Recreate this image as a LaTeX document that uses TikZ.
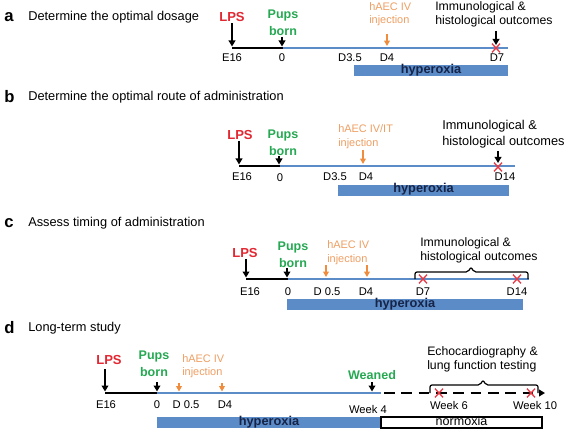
\documentclass[tikz,border=0pt]{standalone}
\usepackage{fontspec}
\setmainfont{Liberation Sans}
\usetikzlibrary{arrows.meta,shapes.misc}
\definecolor{lpsred}{RGB}{226,40,50}
\definecolor{pupsgreen}{RGB}{38,168,82}
\definecolor{injtext}{RGB}{238,158,98}
\definecolor{injarrow}{RGB}{240,140,62}
\definecolor{tlblue}{RGB}{92,140,200}
\definecolor{hypnavy}{RGB}{22,36,72}
\definecolor{xred}{RGB}{230,58,70}
\begin{document}
\begin{tikzpicture}[x=0.75pt,y=-0.75pt,
  every node/.style={inner sep=0pt},
  panel/.style={font=\fontsize{12.5}{14}\selectfont\bfseries,anchor=west},
  ttl/.style={font=\fontsize{9.6}{11}\selectfont,anchor=west},
  tick/.style={font=\fontsize{8.4}{10}\selectfont},
  lps/.style={text=lpsred,font=\fontsize{9.8}{11}\selectfont\bfseries},
  pups/.style={text=pupsgreen,font=\fontsize{9.4}{12.75}\selectfont\bfseries,align=center},
  inj/.style={text=injtext,font=\fontsize{8.2}{10.3}\selectfont,align=left,anchor=west},
  outc/.style={font=\fontsize{9.2}{10.4}\selectfont,align=left,anchor=west},
  blackline/.style={line width=1.6pt,black},
  blueline/.style={line width=1.4pt,tlblue},
  arr/.style={line width=1.1pt,black,-{Triangle[width=5pt,length=4.5pt]}},
  oarr/.style={line width=0.9pt,injarrow,-{Triangle[width=4.2pt,length=4pt]}},
  bar/.style={fill=tlblue,text=hypnavy,font=\fontsize{9.6}{11}\selectfont\bfseries,
     text height=6.3pt,text depth=1.95pt,minimum height=8.25pt},
  nbox/.style={draw=black,line width=0.8pt,fill=white,font=\fontsize{9.4}{11}\selectfont,
     text height=6.3pt,text depth=1.95pt,minimum height=8.25pt},
  redx/.style={cross out,draw=xred,line width=1pt,minimum width=5pt,minimum height=5.5pt},
  brace/.style={line width=0.9pt,black,rounded corners=1.5pt}
]
\useasboundingbox (0,0) rectangle (567,431);

% ================= panel a =================
\node[panel] (a-lab) at (4,17) {a};
\node[ttl] (a-ttl) at (28,17) {Determine the optimal dosage};
\coordinate (a-e16) at (232,48);
\coordinate (a-0) at (283,48);
\coordinate (a-end) at (508,48);
\draw[blackline] (a-e16) -- (a-0);
\draw[blueline] (a-0) -- (a-end);
\node[lps] (a-lps) at (232,17.5) {LPS};
\coordinate (a-le) at (232,46.5);
\draw[arr] (a-lps.south) ++(0,1) -- (a-le);
\node[pups] (a-pups) at (283,23) {Pups\\born};
\coordinate (a-pt) at (282,37);
\coordinate (a-pe) at (282,46.5);
\draw[arr] (a-pt) -- (a-pe);
\node[inj] (a-inj) at (369,14.2) {hAEC IV\\injection};
\coordinate (a-it) at (387,34);
\coordinate (a-ie) at (387,46);
\draw[oarr] (a-it) -- (a-ie);
\node[outc] (a-out) at (435,14.4) {Immunological \&\\histological outcomes};
\coordinate (a-ot) at (496,31);
\coordinate (a-oe) at (496,45);
\draw[arr] (a-ot) -- (a-oe);
\node[redx] (a-x7) at (496,48) {};
\node[tick] (a-t1) at (232,58) {E16};
\node[tick] (a-t2) at (282,58) {0};
\node[tick] (a-t3) at (350,58) {D3.5};
\node[tick] (a-t4) at (387,58) {D4};
\node[tick] (a-t5) at (497,58) {D7};
\node[bar,minimum width=115.5pt] (a-hyp) at (431,70.5) {hyperoxia};

% ================= panel b =================
\node[panel] (b-lab) at (4,97) {b};
\node[ttl] (b-ttl) at (28,97) {Determine the optimal route of administration};
\coordinate (b-e16) at (239,166);
\coordinate (b-0) at (280,166);
\coordinate (b-end) at (515,166);
\draw[blackline] (b-e16) -- (b-0);
\draw[blueline] (b-0) -- (b-end);
\node[lps] (b-lps) at (240,135) {LPS};
\coordinate (b-le) at (239,164.5);
\draw[arr] (b-lps.south) ++(-1,1) -- (b-le);
\node[pups] (b-pups) at (283,142.5) {Pups\\born};
\coordinate (b-pt) at (279,156);
\coordinate (b-pe) at (279,164.5);
\draw[arr] (b-pt) -- (b-pe);
\node[inj] (b-inj) at (338,136.5) {hAEC IV/IT\\injection};
\coordinate (b-it) at (363,150);
\coordinate (b-ie) at (363,164);
\draw[oarr] (b-it) -- (b-ie);
\node[outc,font=\fontsize{9.6}{11.6}\selectfont] (b-out) at (442,134.2) {Immunological \&\\histological outcomes};
\coordinate (b-ot) at (498,151);
\coordinate (b-oe) at (498,163);
\draw[arr] (b-ot) -- (b-oe);
\node[redx] (b-x14) at (498,167) {};
\node[tick] (b-t1) at (242,177) {E16};
\node[tick] (b-t2) at (280,178) {0};
\node[tick] (b-t3) at (335,177) {D3.5};
\node[tick] (b-t4) at (366,177) {D4};
\node[tick] (b-t5) at (505,177) {D14};
\node[bar,minimum width=128.25pt] (b-hyp) at (423.5,190) {hyperoxia};

% ================= panel c =================
\node[panel] (c-lab) at (4,223) {c};
\node[ttl] (c-ttl) at (28,223) {Assess timing of administration};
\coordinate (c-e16) at (246,279);
\coordinate (c-0) at (288,279);
\coordinate (c-end) at (529,279);
\draw[blackline] (c-e16) -- (c-0);
\draw[blueline] (c-0) -- (c-end);
\node[lps] (c-lps) at (245,253.3) {LPS};
\coordinate (c-le) at (246,277.5);
\draw[arr] (c-lps.south) ++(1,1) -- (c-le);
\node[pups] (c-pups) at (293,254.5) {Pups\\born};
\coordinate (c-pt) at (287,268);
\coordinate (c-pe) at (287,277.5);
\draw[arr] (c-pt) -- (c-pe);
\node[inj] (c-inj) at (327,253) {hAEC IV\\injection};
\coordinate (c-i1t) at (326,265);
\coordinate (c-i1e) at (326,277);
\draw[oarr] (c-i1t) -- (c-i1e);
\coordinate (c-i2t) at (367,265);
\coordinate (c-i2e) at (367,277);
\draw[oarr] (c-i2t) -- (c-i2e);
\node[outc] (c-out) at (420,250.5) {Immunological \&\\histological outcomes};
\draw[brace] (415,279) -- (415,272) -- (468,272) -- (471,267) -- (474,272) -- (528,272) -- (528,279);
\node[redx] (c-x7) at (423,279) {};
\node[redx] (c-x14) at (517,279) {};
\node[tick] (c-t1) at (250,292) {E16};
\node[tick] (c-t2) at (288,292) {0};
\node[tick] (c-t3) at (327,292) {D 0.5};
\node[tick] (c-t4) at (366,292) {D4};
\node[tick] (c-t5) at (423,292) {D7};
\node[tick] (c-t6) at (517,292) {D14};
\node[bar,minimum width=177pt] (c-hyp) at (405,304.5) {hyperoxia};

% ================= panel d =================
\node[panel] (d-lab) at (4,328) {d};
\node[ttl] (d-ttl) at (28,328) {Long-term study};
\coordinate (d-e16) at (105,393);
\coordinate (d-0) at (157,393);
\coordinate (d-w4) at (381,393);
\coordinate (d-ds) at (384,393);
\coordinate (d-end) at (545,393);
\draw[blackline] (d-e16) -- (d-0);
\draw[blueline] (d-0) -- (d-w4);
\draw[blackline,dash pattern=on 8pt off 5pt,-{Triangle[width=5pt,length=4.5pt]}] (d-ds) -- (d-end);
\node[lps] (d-lps) at (109,360) {LPS};
\coordinate (d-lt) at (105,369);
\coordinate (d-le) at (105,391.5);
\draw[arr] (d-lt) -- (d-le);
\node[pups] (d-pups) at (154,363.5) {Pups\\born};
\coordinate (d-pt) at (157,382);
\coordinate (d-pe) at (157,391.5);
\draw[arr] (d-pt) -- (d-pe);
\node[inj] (d-inj) at (182,366.3) {hAEC IV\\injection};
\coordinate (d-i1t) at (179,383);
\coordinate (d-i1e) at (179,391.5);
\draw[oarr] (d-i1t) -- (d-i1e);
\coordinate (d-i2t) at (222,383);
\coordinate (d-i2e) at (222,391.5);
\draw[oarr] (d-i2t) -- (d-i2e);
\node[pups] (d-wean) at (372,375.5) {Weaned};
\coordinate (d-wt) at (372,382);
\coordinate (d-we) at (372,391.5);
\draw[arr] (d-wt) -- (d-we);
\node[outc] (d-echo) at (427,359) {Echocardiography \&\\lung function testing};
\draw[brace] (430,393) -- (430,385) -- (480,385) -- (483,380) -- (486,385) -- (538,385) -- (538,393);
\node[redx] (d-x6) at (439,393) {};
\node[redx] (d-x10) at (531,393) {};
\node[tick] (d-t1) at (106,405) {E16};
\node[tick] (d-t2) at (157,405) {0};
\node[tick] (d-t3) at (186,405) {D 0.5};
\node[tick] (d-t4) at (225,405) {D4};
\node[tick] (d-t5) at (368,409) {Week 4};
\node[tick] (d-t6) at (449,405) {Week 6};
\node[tick] (d-t7) at (535,405) {Week 10};
\node[bar,minimum width=168pt] (d-hyp) at (269,422.5) {hyperoxia};
\node[nbox,minimum width=120.75pt] (d-norm) at (461.5,422.5) {normoxia};
\end{tikzpicture}
\end{document}
